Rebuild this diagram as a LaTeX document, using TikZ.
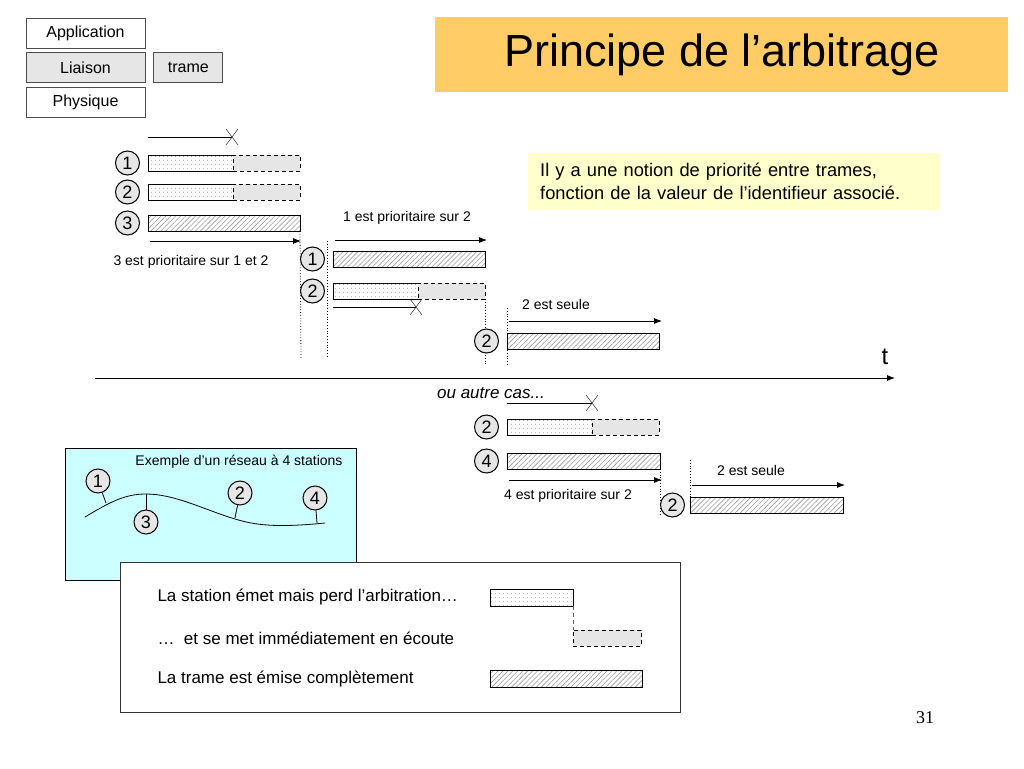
\documentclass[tikz,border=0pt]{standalone}
\usepackage{fontspec}
\setmainfont{Liberation Sans}
\newfontfamily\numfont{Liberation Serif}
\usetikzlibrary{calc,positioning,arrows.meta,patterns.meta}
\definecolor{titre}{HTML}{FFCC66}
\definecolor{note}{HTML}{FFFFCC}
\definecolor{reseau}{HTML}{CCFFFF}
\definecolor{ecoutegris}{HTML}{E6E6E6}
\tikzset{
  barre/.style={draw, line width=1pt, minimum height=16, inner sep=0, outer sep=0, anchor=north west},
  emise/.style={barre, pattern={Dots[distance=4pt, radius=0.55pt]}, pattern color=gray!85},
  ecoute/.style={barre, dash pattern=on 4pt off 3pt, fill=ecoutegris},
  complete/.style={barre, pattern={Lines[angle=45, distance=3.5pt, line width=0.6pt]}, pattern color=gray!80},
  station/.style={circle, draw, line width=1pt, fill=ecoutegris, minimum size=24, inner sep=0, font=\fontsize{18}{18}\selectfont},
  couche/.style={draw=gray!60!black, line width=0.8pt, minimum width=119, minimum height=30, inner sep=0, font=\fontsize{16}{16}\selectfont},
  etiquette/.style={font=\fontsize{14}{16}\selectfont},
  legende/.style={anchor=west, font=\fontsize{17}{19}\selectfont},
  fleche/.style={-{Latex[length=8pt,width=6pt]}, line width=0.8pt},
  limite/.style={dotted, line width=0.8pt},
}
% trame qui perd l'arbitrage : partie emise puis partie en ecoute
\newcommand{\perdue}[4]{
  \node[emise, minimum width=#3] (#1e) at #2 {};
  \node[ecoute, minimum width=#4] (#1l) at (#1e.north east) {};
}
\newcommand{\croix}[1]{
  \draw ($#1+(-6,-8)$) -- ($#1+(6,8)$) ($#1+(6,-8)$) -- ($#1+(-6,8)$);
}

\begin{document}
\begin{tikzpicture}[x=1pt, y=-1pt]
  \useasboundingbox (0,0) rectangle (1024,768);
  % couches
  \node[couche] (app) at (85.5,33) {Application};
  \node[couche, fill=ecoutegris, below=4pt of app] (liaison) {Liaison};
  \node[couche, below=4pt of liaison] (phys) {Physique};
  \node[couche, fill=ecoutegris, minimum width=69, right=8pt of liaison] (trame) {trame};
  \node[fill=titre, minimum width=573, minimum height=75, inner sep=0, anchor=north west,
    font=\fontsize{45}{45}\selectfont] (titre) at (435,17) {Principe de l’arbitrage};
  \node[fill=note, anchor=north west, text width=388pt, inner xsep=12pt, minimum height=57,
    align=left, font=\fontsize{18.3}{23}\selectfont] (notion) at (528,153)
    {Il y a une notion de priorité entre trames,\\fonction de la valeur de l’identifieur associé.};

  % 1, 2 et 3 emettent
  \coordinate (l1) at (148,137);
  \coordinate (x1) at (232,137);
  \draw (l1) -- (x1);
  \croix{(x1)}
  \perdue{r1}{(148,155)}{85}{67}
  \perdue{r2}{(148,184)}{85}{67}
  \node[complete, minimum width=152] (r3) at (148,215) {};
  \node[station, left=8pt of r1e] (s1) {1};
  \node[station, left=8pt of r2e] (s2) {2};
  \node[station, left=8pt of r3] (s3) {3};
  \draw[fleche] ($(r3.south west)+(2,10)$) -- ($(r3.south east)+(1,10)$);
  \node[etiquette, anchor=west] (p3) at (110,262) {3 est prioritaire sur 1 et 2};
  \draw[limite] (r3.south east) -- (301,358);
  \draw[limite] (327,241) -- (327,358);

  % 1 et 2
  \node[complete, minimum width=152] (q1) at (333,251) {};
  \perdue{q2}{(333,283)}{85}{67}
  \node[station, left=8pt of q1] (t1) {1};
  \node[station, left=8pt of q2e] (t2) {2};
  \draw[fleche] ($(q1.north west)+(2,-11)$) -- ($(q1.north east)+(2,-11)$);
  \node[etiquette] (p1) at (407,218) {1 est prioritaire sur 2};
  \coordinate (l2) at (333,307);
  \coordinate (x2) at (416,307);
  \draw (l2) -- (x2);
  \croix{(x2)}
  \draw[limite] (q2l.south east) -- (485,365);
  \draw[limite] (507,308) -- (507,366);

  % 2 seule
  \node[complete, minimum width=152] (u2) at (507,333) {};
  \node[station, left=8pt of u2] (v2) {2};
  \draw[fleche] ($(u2.north west)+(2,-12)$) -- ($(u2.north east)+(3,-12)$);
  \node[etiquette] (seule1) at (556,304) {2 est seule};

  % axe du temps
  \coordinate (t0) at (95,378);
  \coordinate (tf) at (895,378);
  \draw[fleche] (t0) -- (tf);
  \node[font=\fontsize{24}{24}\selectfont] (t) at (885,357) {t};
  \node[font=\fontsize{17}{17}\selectfont\itshape] (autre) at (491,393) {ou autre cas...};

  % 2 et 4
  \coordinate (l3) at (507,403);
  \coordinate (x3) at (592,403);
  \draw (l3) -- (x3);
  \croix{(x3)}
  \perdue{w2}{(507,419)}{85}{67}
  \node[complete, minimum width=153] (w4) at (507,453) {};
  \node[station, left=8pt of w2e] (m2) {2};
  \node[station, left=8pt of w4] (m4) {4};
  \draw[fleche] ($(w4.south west)+(2,11)$) -- ($(w4.south east)+(2,11)$);
  \node[etiquette] (p4) at (568,496) {4 est prioritaire sur 2};
  \draw[limite] (w4.south east) -- (660,515);
  \draw[limite] (690,460) -- (690,515);
  \node[complete, minimum width=153] (y2) at (690,497) {};
  \node[station, left=5pt of y2] (z2) {2};
  \draw[fleche] ($(y2.north west)+(2,-12)$) -- ($(y2.north east)+(2,-12)$);
  \node[etiquette] (seule2) at (751,470) {2 est seule};

  % reseau
  \draw[fill=reseau] (65,448) rectangle (356,580);
  \node[etiquette] (exemple) at (239,462) {Exemple d’un réseau à 4 stations};
  \draw[line width=0.8pt] (85,517) .. controls (110,502) and (125,494) .. (146,494)
    .. controls (175,494) and (205,510) .. (235,519)
    .. controls (255,525) and (275,528) .. (325,523);
  \node[station] (n1) at (98,481) {1};
  \node[station] (n3) at (146,522) {3};
  \node[station] (n2) at (240,493) {2};
  \node[station] (n4) at (315,498) {4};
  \coordinate (c1) at (106,503);
  \coordinate (c3) at (146,494);
  \coordinate (c2) at (235,518);
  \coordinate (c4) at (317,523);
  \foreach \n in {1,2,3,4} \draw[line width=0.8pt] (n\n) -- (c\n);

  % legende
  \draw[draw=black!80, line width=0.8pt, fill=white] (120,562) rectangle (680,712);
  \node[legende] (le1) at (154,597) {La station émet mais perd l’arbitration…};
  \node[legende] (le2) at (154,638) {…\ \ et se met immédiatement en écoute};
  \node[legende] (le3) at (154,679) {La trame est émise complètement};
  \node[emise, minimum width=83, minimum height=17] (be) at (490,589) {};
  \node[ecoute, minimum width=68] (bl) at (573,630) {};
  \draw[gray!70!black, dash pattern=on 4pt off 3pt, line width=1pt] (be.south east) -- (bl.north west);
  \node[complete, minimum width=152, minimum height=17] (bc) at (490,670) {};

  \node[font=\numfont\fontsize{18}{18}\selectfont] (page) at (925,718) {31};
\end{tikzpicture}
\end{document}
